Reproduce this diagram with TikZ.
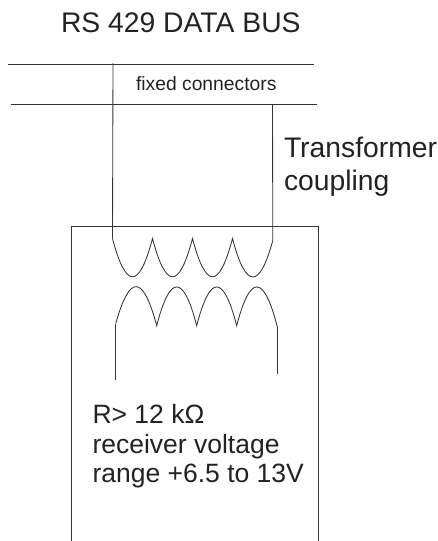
\documentclass[tikz,border=0pt]{standalone}
\usepackage{fontspec}
\setmainfont{Liberation Sans}
\definecolor{ink}{HTML}{222222}
\definecolor{wire}{HTML}{333333}
\tikzset{
  wireline/.style={draw=wire,line width=0.85pt},
  big/.style={inner sep=0pt,outer sep=0pt,anchor=base west,text=ink,font=\fontsize{28.3}{30}\selectfont},
  mid/.style={inner sep=0pt,outer sep=0pt,anchor=base west,text=ink,font=\fontsize{26.5}{30}\selectfont},
  small/.style={inner sep=0pt,outer sep=0pt,anchor=base west,text=ink,font=\fontsize{19.3}{22}\selectfont}
}
\begin{document}
\begin{tikzpicture}[x=1pt,y=-1pt]
\useasboundingbox (0,0) rectangle (438,541);
% text
\node[big] (title) at (61,32) {RS 429 DATA BUS};
\node[small] (fixed) at (136,90) {fixed connectors};
\node[big] (tr) at (284,157) {Transformer};
\node[big] (co) at (284,190) {coupling};
\node[mid] (rr) at (92.5,423) {R> 12 kΩ};
\node[mid] (rv) at (92.5,453) {receiver voltage};
\node[mid] (rg) at (92.5,482.5) {range +6.5 to 13V};
% bus lines
\coordinate (b1a) at (8,64);  \coordinate (b1b) at (314,64);
\coordinate (b2a) at (11,104.5); \coordinate (b2b) at (317,104.5);
\draw[wireline] (b1a) -- (b1b);
\draw[wireline] (b2a) -- (b2b);
% receiver box
\draw[wireline] (71.5,541) -- (71.5,226.5) -- (318.5,226.5) -- (318.5,541);
% primary coil
\coordinate (p0) at (112.5,238.5);
\coordinate (p1) at (152.5,238.5);
\coordinate (p2) at (192.5,238.5);
\coordinate (p3) at (232.5,238.5);
\coordinate (p4) at (272.8,240.5);
\coordinate (t1) at (113,63);
\coordinate (t2) at (272.5,104.5);
\draw[wireline] (t1) -- (p0);
\draw[wireline] (t2) -- (p4);
\draw[wireline] (p0) .. controls (125.8,289.5) and (139.2,289.5) .. (p1)
  .. controls (165.8,289.5) and (179.2,289.5) .. (p2)
  .. controls (205.8,289.5) and (219.2,289.5) .. (p3)
  .. controls (245.8,289.5) and (259.5,289.5) .. (p4);
% secondary coil
\coordinate (s0) at (115.8,323.5);
\coordinate (s1) at (156.7,325.7);
\coordinate (s2) at (196.7,325.7);
\coordinate (s3) at (236.7,325.7);
\coordinate (s4) at (277,325.7);
\coordinate (l1) at (115.8,380);
\coordinate (l2) at (277,373.5);
\draw[wireline] (s0) .. controls (129.5,274) and (143,274) .. (s1)
  .. controls (170,274) and (183.4,274) .. (s2)
  .. controls (210,274) and (223.4,274) .. (s3)
  .. controls (250,274) and (263.6,274) .. (s4);
\draw[wireline] (s0) -- (l1);
\draw[wireline] (s4) -- (l2);
\end{tikzpicture}
\end{document}
